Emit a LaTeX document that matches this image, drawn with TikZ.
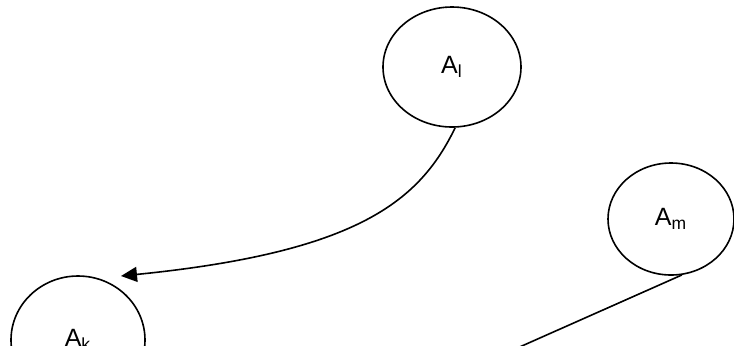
\documentclass[tikz,border=0pt]{standalone}
\usepackage{fontspec}
\setmainfont{Liberation Sans}
\usetikzlibrary{shapes.geometric, arrows.meta, positioning, calc}

\tikzset{
    agent/.style={draw, ellipse, line width=0.8pt, inner sep=0pt, font=\fontsize{12.5}{14}\selectfont},
    link/.style={line width=0.8pt},
}

\begin{document}
\begin{tikzpicture}[x=0.5pt, y=-0.5pt]
    % Canvas
    \clip (0,0) rectangle (734,345);

    % Agents
    \node[agent, minimum width=69pt, minimum height=60pt] (al) at (452,67) {A\textsubscript{l}};
    \node[agent, minimum width=63pt, minimum height=56pt] (am) at (671,219) {A\textsubscript{m}};
    \node[agent, minimum width=67pt, minimum height=64pt] (ak) at (78,340) {A\textsubscript{k}};

    % Free ends
    \coordinate (tip) at (121,276);
    \coordinate (off) at (470,369);

    % Connectors
    \draw[link, -{Triangle[length=8pt, width=7.5pt]}] (al.-87) .. controls (420,200) and (360,252) .. (tip);
    \draw[link] (am.-79) -- (off);
\end{tikzpicture}
\end{document}
